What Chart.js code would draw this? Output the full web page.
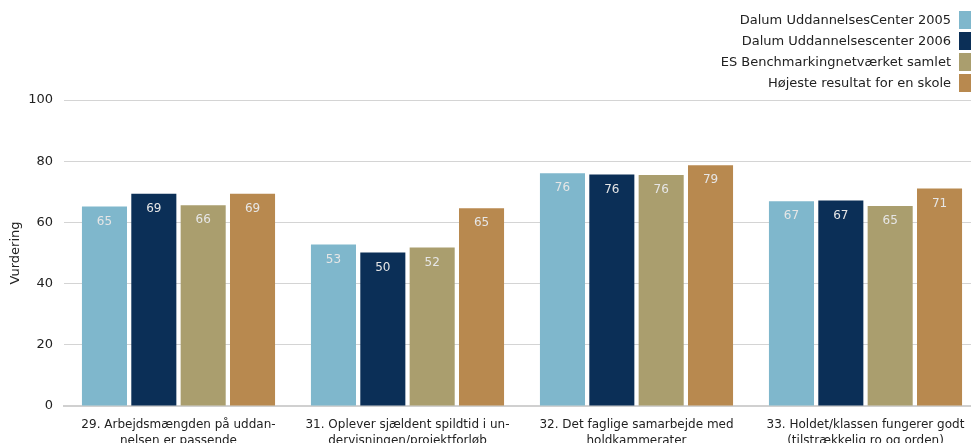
<!DOCTYPE html>
<html lang="da">
<head>
<meta charset="UTF-8">
<title>Vurdering</title>
<script src="https://cdn.jsdelivr.net/npm/chart.js"></script>
<style>
  html, body { margin: 0; padding: 0; background: #fff; overflow: hidden; }
  #wrap { position: relative; width: 980px; height: 452px; }
  #legend { position: absolute; top: 9px; right: 9px; font-family: "DejaVu Sans", sans-serif; font-size: 13px; color: #222; }
  #legend div { display: flex; justify-content: flex-end; align-items: center; height: 21px; }
  #legend span { display: inline-block; width: 12px; height: 18px; margin-left: 8px; }
</style>
</head>
<body>
<div id="wrap">
  <canvas id="chart" width="980" height="452"></canvas>
  <div id="legend"></div>
</div>
<script>
  const categories = [
    ['29. Arbejdsmængden på uddan-', 'nelsen er passende'],
    ['31. Oplever sjældent spildtid i un-', 'dervisningen/projektforløb'],
    ['32. Det faglige samarbejde med', 'holdkammerater'],
    ['33. Holdet/klassen fungerer godt', '(tilstrækkelig ro og orden)']
  ];
  const seriesNames = [
    'Dalum UddannelsesCenter 2005',
    'Dalum Uddannelsescenter 2006',
    'ES Benchmarkingnetværket samlet',
    'Højeste resultat for en skole'
  ];
  const colors = ['#7fb7cc', '#0b2f57', '#aa9e6e', '#b8894f'];
  const dalum2005 = [65.2, 52.8, 76.1, 66.9];
  const dalum2006 = [69.4, 50.2, 75.7, 67.2];
  const esSamlet = [65.6, 51.8, 75.5, 65.4];
  const hoejeste = [69.4, 64.6, 78.7, 71.1];
  const yTicks = [0, 20, 40, 60, 80, 100];

  const values = [dalum2005, dalum2006, esSamlet, hoejeste];

  const legend = document.getElementById('legend');
  seriesNames.forEach((name, i) => {
    const row = document.createElement('div');
    row.innerHTML = name + '<span style="background:' + colors[i] + '"></span>';
    legend.appendChild(row);
  });

  // tal inde i toppen af søjlerne
  const barLabels = {
    id: 'barLabels',
    afterDatasetsDraw(chart) {
      const ctx = chart.ctx;
      ctx.save();
      ctx.font = '12px "DejaVu Sans", sans-serif';
      ctx.fillStyle = '#e6e6e6';
      ctx.textAlign = 'center';
      ctx.textBaseline = 'middle';
      chart.data.datasets.forEach((ds, i) => {
        chart.getDatasetMeta(i).data.forEach((bar, j) => {
          ctx.fillText(Math.round(ds.data[j]), bar.x, bar.y + 15);
        });
      });
      ctx.restore();
    }
  };

  new Chart(document.getElementById('chart'), {
    type: 'bar',
    data: {
      labels: categories,
      datasets: values.map((d, i) => ({
        label: seriesNames[i],
        data: d,
        backgroundColor: colors[i],
        categoryPercentage: 0.862,
        barPercentage: 0.913
      }))
    },
    options: {
      responsive: false,
      animation: false,
      layout: { padding: { top: 100, left: 0, right: 0, bottom: 0 } },
      plugins: { legend: { display: false }, tooltip: { enabled: false } },
      scales: {
        x: {
          grid: { display: false },
          border: { color: '#d0d0d0', width: 2 },
          ticks: { color: '#222', font: { family: 'DejaVu Sans', size: 12, lineHeight: 1.33 }, maxRotation: 0, padding: 3 }
        },
        y: {
          min: 0, max: 100,
          afterBuildTicks: axis => { axis.ticks = yTicks.map(v => ({ value: v })); },
          afterFit: axis => { axis.width = 64; },
          grid: { color: '#d4d4d4', drawTicks: false },
          border: { display: false },
          ticks: { color: '#222', font: { family: 'DejaVu Sans', size: 13 }, padding: 11 },
          title: { display: true, text: 'Vurdering', color: '#222', font: { family: 'DejaVu Sans', size: 13 }, padding: { top: 8, bottom: 0 } }
        }
      }
    },
    plugins: [barLabels]
  });
</script>
</body>
</html>
